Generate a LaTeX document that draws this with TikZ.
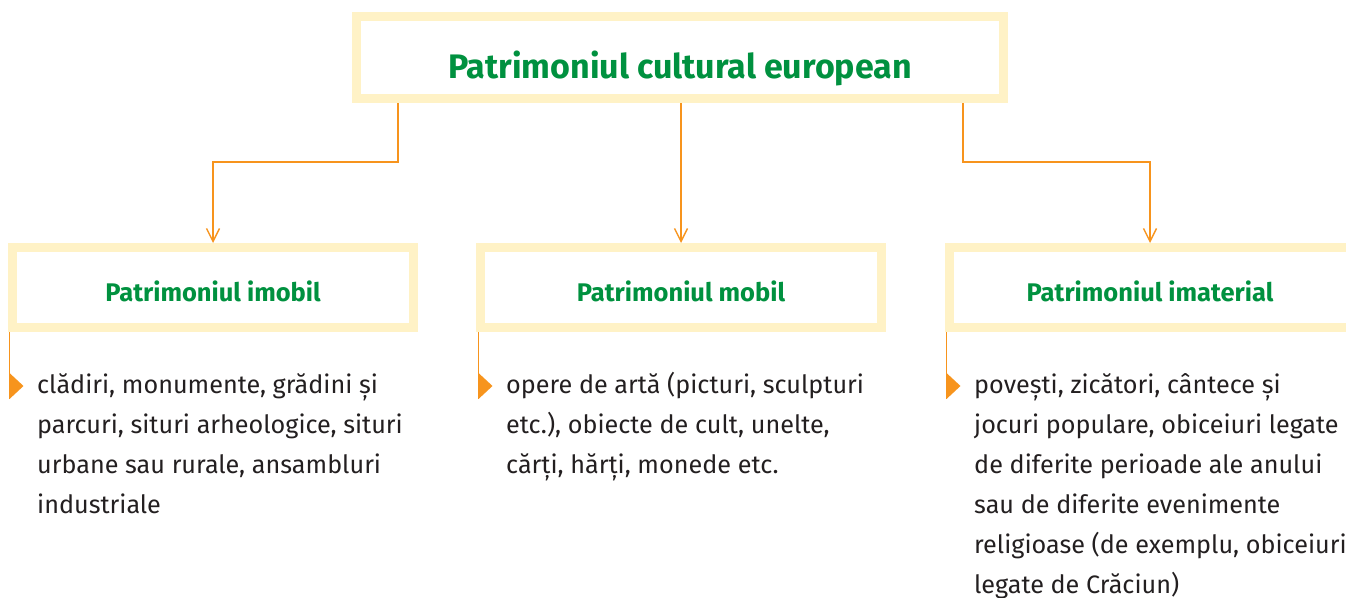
\documentclass[tikz,border=0pt]{standalone}
\usepackage{fontspec}
\setmainfont{Fira Sans}
\usetikzlibrary{arrows.meta, positioning, calc, shadows}
\definecolor{patgreen}{HTML}{00913F}
\definecolor{patorange}{HTML}{F7941D}
\definecolor{patyellow}{HTML}{FFF2C6}
\definecolor{pattext}{HTML}{231F20}

\begin{document}
\begin{tikzpicture}[x=1pt, y=-1pt, >={Straight Barb[length=13pt, width=13pt]},
    box/.style={draw=patyellow, line width=9pt, fill=white, text=patgreen,
      font=\bfseries\fontsize{25.5}{28}\selectfont, minimum width=401pt, minimum height=80pt,
      text height=28pt, text depth=0pt,
      drop shadow={opacity=0.06, shadow xshift=2pt, shadow yshift=-3pt}},
    link/.style={->, draw=patorange, line width=1.4pt},
    bar/.style={draw=patorange, line width=1.4pt},
    item/.style={anchor=base west, inner sep=0pt, align=left, text=pattext,
      font=\fontsize{25.2}{40}\selectfont}]
  \useasboundingbox (0,0) rectangle (1346,597);
  \node[box, minimum width=647pt, minimum height=82pt, text height=41pt,
    font=\bfseries\fontsize{34}{38}\selectfont] (top) at (680,57.5) {Patrimoniul cultural european};
  \node[box] (imobil)    at (213,287.5)  {Patrimoniul imobil};
  \node[box] (mobil)     at (681,287.5)  {Patrimoniul mobil};
  \node[box] (imaterial) at (1150,287.5) {Patrimoniul imaterial};
  \draw[link] ([xshift=46pt]top.south west) -- ++(0,59) -| (imobil.north);
  \draw[link] (top.south -| mobil.north) -- (mobil.north);
  \draw[link] ([xshift=-45pt]top.south east) -- ++(0,59) -| (imaterial.north);
  % lists (placed by the baseline of their last line)
  \node[item] (imobiltxt) at (37,513) {clădiri, monumente, grădini și\\
    parcuri, situri arheologice, situri\\ urbane sau rurale, ansambluri\\ industriale};
  \node[item] (mobiltxt) at (506,473) {opere de artă (picturi, sculpturi\\
    etc.), obiecte de cult, unelte,\\ cărți, hărți, monede etc.};
  \node[item] (imaterialtxt) at (974,593) {povești, zicători, cântece și\\
    jocuri populare, obiceiuri legate\\ de diferite perioade ale anului\\
    sau de diferite evenimente\\ religioase (de exemplu, obiceiuri\\ legate de Crăciun)};
  % bullets
  \coordinate (b1) at (9.5,399);
  \coordinate (b2) at (478.5,399);
  \coordinate (b3) at (946.5,399);
  \draw[bar] (imobil.south west -| b1) -- (b1);
  \draw[bar] (mobil.south west -| b2) -- (b2);
  \draw[bar] (imaterial.south west -| b3) -- (b3);
  \fill[patorange] (b1) -- ++(14,-13) -- ++(-14,-13) -- cycle;
  \fill[patorange] (b2) -- ++(14,-13) -- ++(-14,-13) -- cycle;
  \fill[patorange] (b3) -- ++(14,-13) -- ++(-14,-13) -- cycle;
\end{tikzpicture}
\end{document}
